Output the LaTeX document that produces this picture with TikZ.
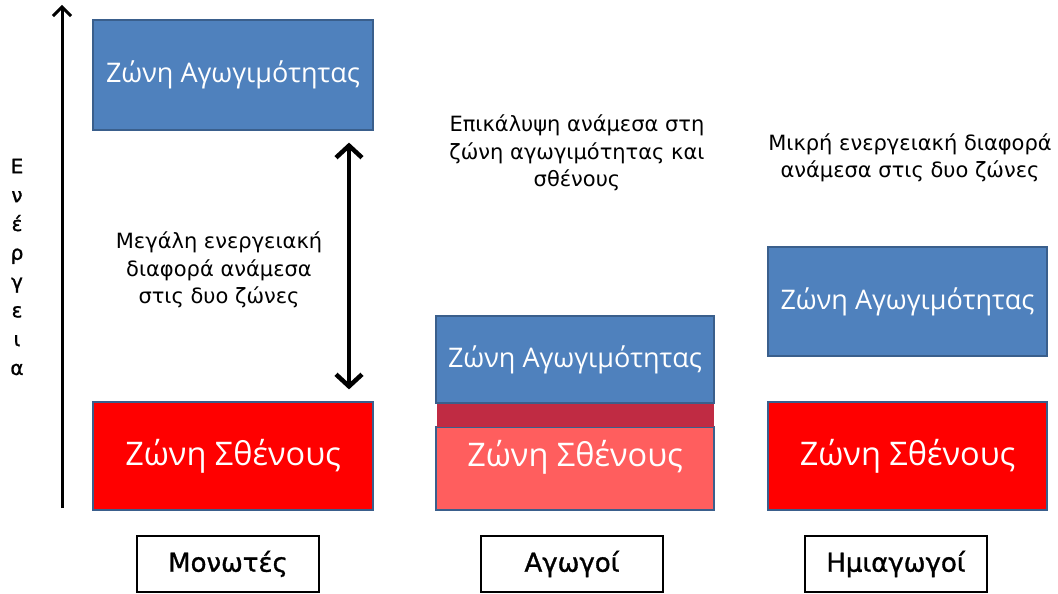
\documentclass[tikz,border=0pt]{standalone}
\usepackage{fontspec}
\setmainfont{DejaVu Sans}
\newfontfamily\bandfont{Open Sans}
\newfontfamily\kindfont[FakeBold=1.2]{DejaVu Sans}
\usetikzlibrary{arrows.meta}

\definecolor{cband}{HTML}{4F81BD}
\definecolor{vband}{HTML}{FF0000}
\definecolor{vlight}{HTML}{FF5E5E}
\definecolor{overlap}{HTML}{C02B43}
\definecolor{bandedge}{HTML}{3A5F8C}

\tikzset{
  band/.style={draw=bandedge, line width=1.2pt, minimum width=280pt,
    inner sep=0pt, text=white},
  condfont/.style={font=\bandfont\fontsize{27}{30}\selectfont},
  valfont/.style={font=\bandfont\fontsize{32.5}{36}\selectfont},
  condband/.style={band, fill=cband, condfont},
  valband/.style={band, fill=vband, valfont},
  note/.style={align=center, font=\fontsize{21}{27.5}\selectfont, text=black},
  kind/.style={draw=black, line width=2.8pt, minimum width=182pt,
    minimum height=56pt, font=\kindfont\fontsize{26}{29}\selectfont},
  axis/.style={line width=3pt, -{Straight Barb[length=9pt,width=18pt,line width=3pt]}},
  gap/.style={line width=4.5pt, {Straight Barb[length=12pt,width=26pt,line width=4.5pt]}-{Straight Barb[length=12pt,width=26pt,line width=4.5pt]}}
}

\begin{document}
\begin{tikzpicture}[x=1pt,y=-1pt]
  \useasboundingbox (0,0) rectangle (1058,594);

  % energy axis
  \coordinate (axbot) at (62,508);
  \coordinate (axtop) at (62,5);
  \draw[axis] (axbot) -- (axtop);
  \node[align=center, font=\kindfont\fontsize{20}{28.8}\selectfont] (energy) at (17,267)
    {Ε\\ν\\έ\\ρ\\γ\\ε\\ι\\α};

  % insulators
  \node[condband, minimum height=110pt] (ic) at (233,75) {Ζώνη Αγωγιμότητας};
  \node[valband, minimum height=108pt] (iv) at (233,456) {Ζώνη Σθένους};
  \draw[gap] ([xshift=116pt,yshift=12pt]iv.north) -- ([xshift=116pt,yshift=-12pt]ic.south);
  \node[note] (inote) at (219,270) {Μεγάλη ενεργειακή\\διαφορά ανάμεσα\\στις δυο ζώνες};
  \node[kind] (ikind) at (228,564) {Μονωτές};

  % conductors
  \node[band, fill=vlight, minimum width=278pt, minimum height=83pt] (mv) at (575,468.5) {};
  \node[band, fill=overlap, draw=none, minimum width=277pt, minimum height=24pt] (mo) at (575,415) {};
  \node[condband, minimum width=278pt, minimum height=87pt] (mc) at (575,359.5) {Ζώνη Αγωγιμότητας};
  \node[valfont, text=white] (mvtext) at (575,457) {Ζώνη Σθένους};
  \node[note] (mnote) at (577,153) {Επικάλυψη ανάμεσα στη\\ζώνη αγωγιμότητας και\\σθένους};
  \node[kind] (mkind) at (572,564) {Αγωγοί};

  % semiconductors
  \node[condband, minimum width=279pt, minimum height=109pt] (sc) at (907.5,301.5) {Ζώνη Αγωγιμότητας};
  \node[valband, minimum width=279pt, minimum height=108pt] (sv) at (907.5,456) {Ζώνη Σθένους};
  \node[note] (snote) at (910,158) {Μικρή ενεργειακή διαφορά\\ανάμεσα στις δυο ζώνες};
  \node[kind] (skind) at (896,564) {Ημιαγωγοί};
\end{tikzpicture}
\end{document}
